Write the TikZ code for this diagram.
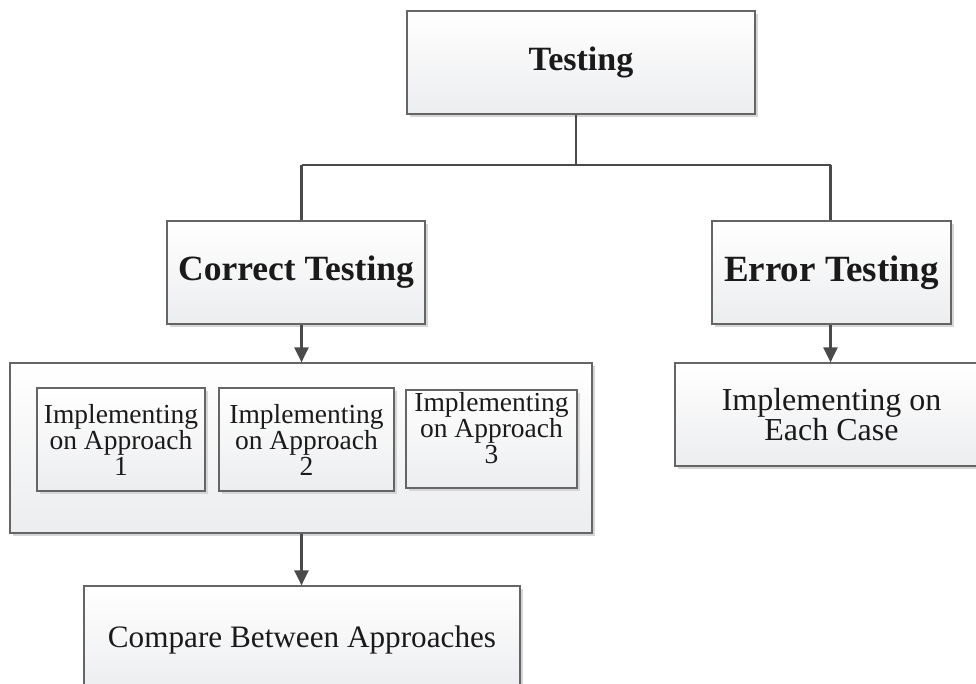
\documentclass[tikz,border=0pt]{standalone}
\usepackage{fontspec}
\setmainfont{Liberation Serif}
\usetikzlibrary{arrows.meta,shadows}
\definecolor{edge}{HTML}{656565}
\definecolor{linec}{HTML}{4A4A4A}
\definecolor{boxbot}{HTML}{ECEDEF}
\definecolor{txt}{HTML}{1A1A1A}
\begin{document}
\begin{tikzpicture}[x=1pt,y=-1pt,
  box/.style={draw=edge, line width=1.2pt, top color=white, bottom color=boxbot,
    drop shadow={shadow xshift=3pt, shadow yshift=-3pt, fill=black!16, opacity=1},
    inner sep=0pt, align=center, text=txt},
  plain/.style={inner sep=0pt, align=center, text=txt},
  conn/.style={draw=linec, line width=2.2pt},
  arr/.style={conn, -{Triangle[length=15pt,width=14pt]}},
  headA/.style={font=\fontsize{34}{40}\selectfont\bfseries},
  headB/.style={font=\fontsize{35.5}{40}\selectfont\bfseries},
  headC/.style={font=\fontsize{37}{40}\selectfont\bfseries},
  small/.style={font=\fontsize{27.5}{26}\selectfont},
  mid/.style={font=\fontsize{32}{29}\selectfont},
  cmpfont/.style={font=\fontsize{31.2}{29}\selectfont}]
\useasboundingbox (0,0) rectangle (976,684);
\clip (0,0) rectangle (976,684);

\node[box, headA, minimum width=348pt, minimum height=103pt] (t) at (581,62.5) {Testing};
\node[box, headB, minimum width=258pt, minimum height=103pt] (ct) at (296,272.5) {Correct Testing};
\node[box, headC, minimum width=239pt, minimum height=103pt] (et) at (831.5,272.5) {Error Testing};

\node[box, minimum width=582pt, minimum height=170pt] (c) at (301,448) {};
\node[box, small, minimum width=168pt, minimum height=103pt] (b1) at (121,439.5) {Implementing\\on Approach\\1};
\node[box, small, minimum width=175pt, minimum height=103pt] (b2) at (306.5,439.5) {Implementing\\on Approach\\2};
\node[box, minimum width=171pt, minimum height=98pt] (b3) at (491.5,439) {};
\node[plain, small] (b3t) at (491.5,428) {Implementing\\on Approach\\3};

\node[box, cmpfont, minimum width=436pt, minimum height=108pt] (cmp) at (302,640) {Compare Between Approaches};
\node[box, mid, minimum width=313pt, minimum height=103pt] (ec) at (831.5,414.5) {Implementing on\\Each Case};

\coordinate (j) at (576,165);
\coordinate (jl) at (301.5,165);
\coordinate (jr) at (830.5,165);
\draw[conn] (t.south -| j) -- (j);
\draw[conn] (jl) -- (jr);
\draw[conn] (jl) -- (ct.north -| jl);
\draw[conn] (jr) -- (et.north -| jr);
\draw[arr] (ct.south -| jl) -- (c.north -| jl);
\draw[arr] (c.south -| jl) -- (cmp.north -| jl);
\draw[arr] (et.south -| jr) -- (ec.north -| jr);
\end{tikzpicture}
\end{document}
